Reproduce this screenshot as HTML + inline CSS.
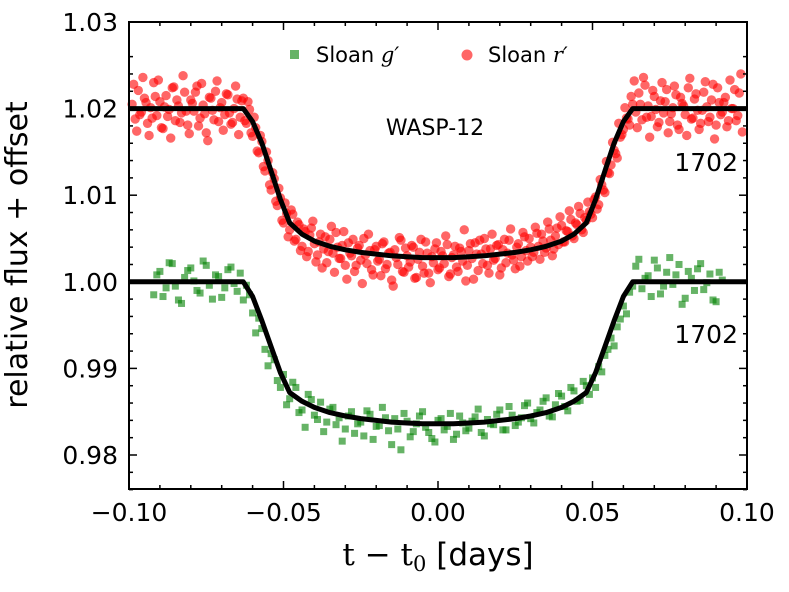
<!DOCTYPE html>
<html><head><meta charset="utf-8"><style>
html,body{margin:0;padding:0;background:#fff;}
svg{display:block;font-family:"DejaVu Sans","Liberation Sans",sans-serif;}
</style></head><body>
<svg id="chart" width="789" height="592" viewBox="0 0 789 592">
<g id="pts"></g>
<g id="models"></g>
<g id="axes"></g>
<text x="27" y="255" font-size="30" text-anchor="middle" transform="rotate(-90 27 255)">relative flux + offset</text>
<text x="438" y="565" font-size="31" text-anchor="middle"><tspan font-family="'DejaVu Serif','Liberation Serif',serif">t − t</tspan><tspan font-family="'DejaVu Serif','Liberation Serif',serif" font-size="21" dy="6">0</tspan><tspan dy="-6"> [days]</tspan></text>
<g>
<rect x="290" y="50" width="9" height="9" fill="green" fill-opacity="0.6"/>
<text x="316" y="62" font-size="21">Sloan <tspan font-family="'DejaVu Serif',serif" font-style="italic">g′</tspan></text>
<circle cx="467" cy="55" r="5.5" fill="red" fill-opacity="0.6"/>
<text x="488" y="62" font-size="21">Sloan <tspan font-family="'DejaVu Serif',serif" font-style="italic">r′</tspan></text>
</g>
<text x="435" y="135" font-size="22" text-anchor="middle">WASP-12</text>
<text x="738" y="171" font-size="25" text-anchor="end">1702</text>
<text x="738" y="343" font-size="25" text-anchor="end">1702</text>
</svg>
<script>
const xTicks=[-0.10,-0.05,0.00,0.05,0.10];
const xTickLabels=["−0.10","−0.05","0.00","0.05","0.10"];
const yTicks=[0.98,0.99,1.00,1.01,1.02,1.03];
const yTickLabels=["0.98","0.99","1.00","1.01","1.02","1.03"];
const modelX=[-0.1,-0.063,-0.06,-0.057,-0.054,-0.051,-0.048,-0.044,-0.04,-0.035,-0.03,-0.025,-0.02,-0.015,-0.01,-0.005,0,0.005,0.01,0.015,0.02,0.025,0.03,0.035,0.04,0.044,0.048,0.051,0.054,0.057,0.06,0.063,0.1];
const modelR=[1.02,1.02,1.0185,1.016,1.0128,1.0095,1.0068,1.0055,1.0047,1.0041,1.0037,1.0034,1.0032,1.003,1.0029,1.0028,1.0028,1.0028,1.0029,1.003,1.0032,1.0034,1.0037,1.0041,1.0047,1.0055,1.0068,1.0095,1.0128,1.016,1.0185,1.02,1.02];
const modelG=[1.0,1.0,0.9983,0.9955,0.9925,0.9895,0.9872,0.9862,0.9855,0.9849,0.9845,0.9842,0.984,0.9838,0.9837,0.9836,0.9836,0.9836,0.9837,0.9838,0.984,0.9842,0.9845,0.9849,0.9855,0.9862,0.9872,0.9895,0.9925,0.9955,0.9983,1.0,1.0];
const rX=[-0.099,-0.098,-0.097,-0.096,-0.095,-0.094,-0.093,-0.092,-0.091,-0.090,-0.089,-0.088,-0.087,-0.086,-0.085,-0.084,-0.083,-0.082,-0.081,-0.080,-0.079,-0.078,-0.077,-0.076,-0.075,-0.074,-0.073,-0.072,-0.071,-0.070,-0.069,-0.068,-0.067,-0.066,-0.065,-0.064,
-0.063,-0.062,-0.061,-0.060,-0.059,-0.058,-0.057,-0.056,-0.055,-0.054,-0.053,-0.052,-0.051,-0.050,-0.049,
-0.048,-0.047,-0.046,-0.045,-0.044,-0.043,-0.042,-0.041,-0.040,-0.039,-0.038,-0.037,-0.036,-0.035,-0.034,-0.033,-0.032,-0.031,-0.030,-0.029,-0.028,-0.027,-0.026,-0.025,-0.024,-0.023,-0.022,-0.021,-0.020,-0.019,-0.018,-0.017,-0.016,-0.015,-0.014,-0.013,-0.012,-0.011,-0.010,-0.009,-0.008,-0.007,-0.006,-0.005,-0.004,-0.003,-0.002,-0.001,0.000,
0.001,0.002,0.003,0.004,0.005,0.006,0.007,0.008,0.009,0.010,0.011,0.012,0.013,0.014,0.015,0.016,0.017,0.018,0.019,0.020,0.021,0.022,0.023,0.024,0.025,0.026,0.027,0.028,0.029,0.030,0.031,0.032,0.033,0.034,0.035,0.036,0.037,0.038,0.039,0.040,0.041,0.042,0.043,0.044,0.045,0.046,0.047,0.048,
0.049,0.050,0.051,0.052,0.053,0.054,0.055,0.056,0.057,0.058,0.059,0.060,0.061,0.062,0.063,
0.064,0.065,0.066,0.067,0.068,0.069,0.070,0.071,0.072,0.073,0.074,0.075,0.076,0.077,0.078,0.079,0.080,0.081,0.082,0.083,0.084,0.085,0.086,0.087,0.088,0.089,0.090,0.091,0.092,0.093,0.094,0.095,0.096,0.097,0.098];
const rY=[1.0205,1.0188,1.0221,1.0196,1.0212,1.0183,1.0201,1.0230,1.0192,1.0208,1.0177,1.0215,1.0199,1.0224,1.0186,1.0203,1.0195,1.0219,1.0181,1.0210,1.0197,1.0226,1.0189,1.0204,1.0172,1.0213,1.0198,1.0220,1.0185,1.0207,1.0193,1.0216,1.0182,1.0200,1.0211,1.0190,
1.0212,1.0183,1.0199,1.0168,1.0178,1.0149,1.0162,1.0128,1.0140,1.0106,1.0119,1.0088,1.0097,1.0068,1.0079,
1.0060,1.0078,1.0049,1.0066,1.0041,1.0058,1.0035,1.0062,1.0044,
1.0031,1.0055,1.0038,1.0022,1.0049,1.0033,1.0057,1.0027,1.0042,1.0019,
1.0045,1.0030,1.0012,1.0039,1.0025,1.0050,1.0021,1.0036,1.0008,1.0041,
1.0026,1.0044,1.0015,1.0033,1.0002,1.0037,1.0020,1.0048,1.0011,1.0030,
1.0023,1.0040,1.0005,1.0034,1.0018,1.0046,1.0010,1.0029,1.0038,1.0014,
1.0035,1.0021,1.0043,1.0009,1.0031,1.0017,1.0039,1.0024,1.0001,1.0036,
1.0027,1.0045,1.0013,1.0032,1.0050,1.0019,1.0038,1.0025,1.0042,1.0008,
1.0037,1.0022,1.0048,1.0031,1.0015,1.0044,1.0029,1.0052,1.0024,1.0040,
1.0034,1.0056,1.0026,1.0047,1.0039,1.0061,1.0030,1.0053,1.0043,1.0065,
1.0046,1.0058,1.0072,1.0050,1.0066,1.0079,1.0057,1.0071,
1.0081,1.0074,1.0098,1.0089,1.0112,1.0103,1.0126,1.0135,1.0152,1.0143,1.0167,1.0176,1.0189,1.0181,1.0205,
1.0196,1.0218,1.0187,1.0227,1.0203,1.0191,1.0214,1.0179,1.0209,1.0195,1.0222,1.0185,1.0201,1.0216,1.0176,1.0206,1.0193,1.0224,1.0188,1.0211,1.0198,1.0183,1.0219,1.0202,1.0190,1.0228,1.0181,1.0207,1.0196,1.0213,1.0186,1.0200,1.0222,1.0192,1.0240];
const rX2=[-0.0985,-0.0975,-0.0965,-0.0955,-0.0945,-0.0935,-0.0925,-0.0915,-0.0905,-0.0895,-0.0885,-0.0875,-0.0865,-0.0855,-0.0845,-0.0835,-0.0825,-0.0815,-0.0805,-0.0795,-0.0785,-0.0775,-0.0765,-0.0755,-0.0745,-0.0735,-0.0725,-0.0715,-0.0705,-0.0695,-0.0685,-0.0675,-0.0665,-0.0655,-0.0645,-0.0635,
-0.0625,-0.0615,-0.0605,-0.0595,-0.0585,-0.0575,-0.0565,-0.0555,-0.0545,-0.0535,-0.0525,-0.0515,-0.0505,-0.0495,
-0.0485,-0.0475,-0.0465,-0.0455,-0.0445,-0.0435,-0.0425,-0.0415,-0.0405,-0.0395,-0.0385,-0.0375,-0.0365,-0.0355,-0.0345,-0.0335,-0.0325,-0.0315,-0.0305,-0.0295,-0.0285,-0.0275,-0.0265,-0.0255,-0.0245,-0.0235,-0.0225,-0.0215,-0.0205,-0.0195,-0.0185,-0.0175,-0.0165,-0.0155,-0.0145,-0.0135,-0.0125,-0.0115,-0.0105,-0.0095,-0.0085,-0.0075,-0.0065,-0.0055,-0.0045,-0.0035,-0.0025,-0.0015,-0.0005,
0.0005,0.0015,0.0025,0.0035,0.0045,0.0055,0.0065,0.0075,0.0085,0.0095,0.0105,0.0115,0.0125,0.0135,0.0145,0.0155,0.0165,0.0175,0.0185,0.0195,0.0205,0.0215,0.0225,0.0235,0.0245,0.0255,0.0265,0.0275,0.0285,0.0295,0.0305,0.0315,0.0325,0.0335,0.0345,0.0355,0.0365,0.0375,0.0385,0.0395,0.0405,0.0415,0.0425,0.0435,0.0445,0.0455,0.0465,0.0475,0.0485,
0.0495,0.0505,0.0515,0.0525,0.0535,0.0545,0.0555,0.0565,0.0575,0.0585,0.0595,0.0605,0.0615,0.0625,
0.0635,0.0645,0.0655,0.0665,0.0675,0.0685,0.0695,0.0705,0.0715,0.0725,0.0735,0.0745,0.0755,0.0765,0.0775,0.0785,0.0795,0.0805,0.0815,0.0825,0.0835,0.0845,0.0855,0.0865,0.0875,0.0885,0.0895,0.0905,0.0915,0.0925,0.0935,0.0945,0.0955,0.0965,0.0975,0.0985];
const rY2=[1.0228,1.0174,1.0193,1.0236,1.0207,1.0169,1.0189,1.0214,1.0233,1.0178,1.0202,1.0191,1.0166,1.0225,1.0210,1.0184,1.0238,1.0197,1.0171,1.0206,1.0219,1.0180,1.0229,1.0194,1.0163,1.0212,1.0187,1.0232,1.0201,1.0175,1.0217,1.0195,1.0184,1.0226,1.0170,1.0209,
1.0186,1.0208,1.0172,1.0190,1.0151,1.0169,1.0133,1.0150,1.0112,1.0126,1.0093,1.0108,1.0071,1.0091,
1.0052,1.0083,1.0047,1.0069,1.0036,1.0061,1.0029,1.0054,1.0070,1.0023,
1.0046,1.0016,1.0052,1.0035,1.0064,1.0011,1.0040,1.0027,1.0058,1.0003,
1.0033,1.0049,1.0019,1.0042,0.9998,1.0031,1.0055,1.0014,1.0037,1.0024,
1.0007,1.0046,1.0020,1.0034,0.9995,1.0028,1.0051,1.0012,1.0039,1.0017,
1.0042,1.0004,1.0026,1.0049,1.0010,1.0033,0.9999,1.0022,1.0045,1.0016,
1.0030,1.0053,1.0006,1.0028,1.0041,1.0012,1.0035,1.0060,1.0019,1.0044,
1.0003,1.0032,1.0048,1.0021,1.0038,1.0010,1.0055,1.0027,1.0043,1.0016,
1.0049,1.0033,1.0061,1.0025,1.0040,1.0018,1.0057,1.0036,1.0050,1.0029,
1.0063,1.0041,1.0055,1.0034,1.0069,1.0048,1.0038,1.0062,1.0075,1.0046,
1.0059,1.0082,1.0053,1.0068,1.0087,1.0060,1.0074,1.0092,
1.0078,1.0095,1.0084,1.0118,1.0106,1.0139,1.0125,1.0161,1.0148,1.0183,1.0170,1.0201,1.0188,1.0214,
1.0232,1.0178,1.0205,1.0236,1.0190,1.0167,1.0221,1.0199,1.0184,1.0230,1.0208,1.0172,1.0194,1.0226,1.0181,1.0213,1.0203,1.0169,1.0235,1.0189,1.0217,1.0176,1.0198,1.0231,1.0185,1.0210,1.0165,1.0224,1.0193,1.0207,1.0179,1.0233,1.0200,1.0186,1.0218,1.0173];
const gX=[-0.092,-0.090,-0.088,-0.086,-0.084,-0.082,-0.080,-0.078,-0.076,-0.074,-0.072,-0.070,-0.068,-0.066,-0.064,
-0.062,-0.060,-0.058,-0.056,-0.054,-0.052,-0.050,
-0.048,-0.046,-0.044,-0.042,-0.040,-0.038,-0.036,-0.034,-0.032,-0.030,-0.028,-0.026,-0.024,-0.022,-0.020,-0.018,-0.016,-0.014,-0.012,-0.010,-0.008,-0.006,-0.004,-0.002,0.000,0.002,0.004,0.006,0.008,0.010,0.012,0.014,0.016,0.018,0.020,0.022,0.024,0.026,0.028,0.030,0.032,0.034,0.036,0.038,0.040,0.042,0.044,0.046,0.048,
0.050,0.052,0.054,0.056,0.058,0.060,0.062,
0.064,0.066,0.068,0.070,0.072,0.074,0.076,0.078,0.080,0.082,0.084,0.086,0.088,0.090,0.092];
const gY=[0.9985,1.0012,0.9993,1.0021,0.9979,1.0005,1.0016,0.9990,1.0024,0.9996,1.0008,0.9982,1.0014,0.9998,1.0010,
0.9996,0.9964,0.9958,0.9922,0.9917,0.9886,0.9893,
0.9865,0.9878,0.9852,0.9870,0.9846,0.9861,0.9838,0.9855,0.9843,0.9830,
0.9850,0.9836,0.9822,0.9847,0.9833,0.9855,0.9828,0.9842,0.9806,0.9839,
0.9827,0.9845,0.9832,0.9819,0.9840,0.9829,0.9848,0.9824,0.9837,0.9831,
0.9844,0.9826,0.9841,0.9835,0.9852,0.9829,0.9846,0.9838,0.9857,0.9842,
0.9849,0.9862,0.9845,0.9858,0.9868,0.9851,0.9874,0.9863,0.9880,
0.9889,0.9902,0.9915,0.9935,0.9948,0.9972,0.9988,
1.0018,0.9992,1.0007,1.0025,0.9986,1.0011,0.9997,1.0020,0.9981,1.0004,1.0015,0.9991,1.0009,0.9977,1.0002];
const gX2=[-0.091,-0.089,-0.087,-0.085,-0.083,-0.081,-0.079,-0.077,-0.075,-0.073,-0.071,-0.069,-0.067,-0.065,
-0.063,-0.061,-0.059,-0.057,-0.055,-0.053,-0.051,
-0.049,-0.047,-0.045,-0.043,-0.041,-0.039,-0.037,-0.035,-0.033,-0.031,-0.029,-0.027,-0.025,-0.023,-0.021,-0.019,-0.017,-0.015,-0.013,-0.011,-0.009,-0.007,-0.005,-0.003,-0.001,0.001,0.003,0.005,0.007,0.009,0.011,0.013,0.015,0.017,0.019,0.021,0.023,0.025,0.027,0.029,0.031,0.033,0.035,0.037,0.039,0.041,0.043,0.045,0.047,0.049,
0.051,0.053,0.055,0.057,0.059,0.061,0.063,
0.065,0.067,0.069,0.071,0.073,0.075,0.077,0.079,0.081,0.083,0.085,0.087,0.089,0.091];
const gY2=[1.0008,0.9983,1.0022,0.9995,0.9975,1.0013,1.0001,0.9987,1.0019,0.9980,1.0006,0.9993,1.0017,0.9989,
0.9979,0.9985,0.9941,0.9946,0.9903,0.9910,0.9878,
0.9858,0.9884,0.9849,0.9832,0.9864,0.9841,0.9827,0.9853,0.9835,0.9816,
0.9845,0.9825,0.9838,0.9851,0.9818,0.9834,0.9843,0.9812,0.9830,0.9848,
0.9821,0.9836,0.9850,0.9826,0.9815,0.9842,0.9833,0.9818,0.9845,0.9828,
0.9839,0.9853,0.9822,0.9836,0.9847,0.9829,0.9856,0.9834,0.9843,0.9860,
0.9837,0.9852,0.9866,0.9844,0.9871,0.9856,0.9878,0.9862,0.9885,0.9870,
0.9878,0.9896,0.9922,0.9926,0.9957,0.9963,0.9995,
1.0026,1.0004,0.9983,1.0016,0.9995,1.0028,1.0008,0.9974,1.0012,0.9990,1.0021,0.9999,0.9979,1.0011];

const L=129,R=747,T=22,B=489;
const X0=-0.1,X1=0.1,Y0=0.98,YPX=8660;
function sx(v){return L+(v-X0)/(X1-X0)*(R-L);}
function sy(v){return 455-(v-Y0)*YPX;}
const NS="http://www.w3.org/2000/svg";
function mk(tag,attrs,parent){const e=document.createElementNS(NS,tag);for(const k in attrs)e.setAttribute(k,attrs[k]);parent.appendChild(e);return e;}
const pts=document.getElementById('pts');
function drawG(xs,ys){
  for(let i=0;i<xs.length;i++){
    const e=mk('rect',{x:sx(xs[i])-3.5,y:sy(ys[i])-3.5,width:7,height:7,fill:'green','fill-opacity':0.6},pts);
    
    
  }
}
function drawR(xs,ys){
  for(let i=0;i<xs.length;i++){
    const e=mk('circle',{cx:sx(xs[i]),cy:sy(ys[i]),r:4.7,fill:'red','fill-opacity':0.6},pts);
    
    
  }
}
drawG(gX,gY);drawG(gX2,gY2);
drawR(rX,rY);drawR(rX2,rY2);
const models=document.getElementById('models');
[[modelR,'model-r'],[modelG,'model-g']].forEach(([arr,nm])=>{
  const d=modelX.map((x,i)=>(i?'L':'M')+sx(x).toFixed(1)+' '+sy(arr[i]).toFixed(1)).join(' ');
  const p=mk('path',{d:d,fill:'none',stroke:'#000','stroke-width':5,'stroke-linejoin':'round'},models);
  
  
});
const axes=document.getElementById('axes');
const fr=mk('rect',{x:L,y:T,width:R-L,height:B-T,fill:'none',stroke:'#000','stroke-width':2},axes);


function tick(x1,y1,x2,y2){mk('line',{x1:x1,y1:y1,x2:x2,y2:y2,stroke:'#000','stroke-width':1.5},axes);}
for(let k=0;k<=20;k++){const v=X0+k*0.01;const x=sx(v);const len=(k%5===0)?8:4;tick(x,B,x,B-len);tick(x,T,x,T+len);}
for(let k=-2;k<=25;k++){const v=0.976+k*0.002;if(v<0.9759||v>1.0301)continue;const y=sy(v);const len=(Math.round(v*1000)%10===0)?8:4;tick(L,y,L+len,y);tick(R,y,R-len,y);}
xTicks.forEach((v,i)=>{const t=mk('text',{x:sx(v),y:521,'font-size':25,'text-anchor':'middle'},axes);t.textContent=xTickLabels[i];
  
  });
yTicks.forEach((v,i)=>{const t=mk('text',{x:118,y:sy(v)+9,'font-size':25,'text-anchor':'end'},axes);t.textContent=yTickLabels[i];
  
  });
</script>
</body></html>
